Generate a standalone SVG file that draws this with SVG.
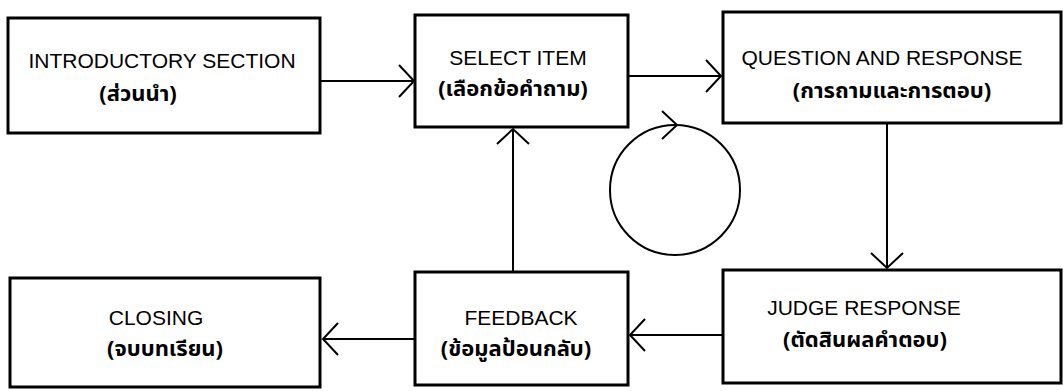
<svg xmlns="http://www.w3.org/2000/svg" width="1063" height="391" viewBox="0 0 1063 391">
<style>
.box{fill:#fff;stroke:#000;stroke-width:3}
.en{font-family:"Liberation Sans",Arial,sans-serif;font-size:21px;fill:#000;text-anchor:middle}
.th{font-family:"Noto Sans Thai","Liberation Sans","DejaVu Sans",sans-serif;font-size:22px;font-weight:bold;fill:#000;text-anchor:middle}
.con{fill:none;stroke:#000;stroke-width:2}
</style>
<defs>
<marker id="ah" markerUnits="userSpaceOnUse" markerWidth="40" markerHeight="40" refX="20" refY="20" orient="auto" viewBox="0 0 40 40">
<path d="M5,4 L20,20 L5,36" fill="none" stroke="#000" stroke-width="2"/>
</marker>
</defs>
<g id="connectors">
<line class="con" x1="321" y1="81" x2="414" y2="81" marker-end="url(#ah)"/>
<line class="con" x1="628" y1="76" x2="721" y2="76" marker-end="url(#ah)"/>
<line class="con" x1="887" y1="123" x2="887" y2="268" marker-end="url(#ah)"/>
<line class="con" x1="723" y1="335" x2="630" y2="335" marker-end="url(#ah)"/>
<line class="con" x1="415" y1="339" x2="323" y2="339" marker-end="url(#ah)"/>
<line class="con" x1="513" y1="272" x2="513" y2="129" marker-end="url(#ah)"/>
<circle class="con" cx="675" cy="190" r="65"/>
<path d="M662,111 L677,125 L662,139" fill="none" stroke="#000" stroke-width="2"/>
</g>
<g id="intro">
<rect class="box" x="8" y="18" width="312" height="115"/>
<text class="en" x="162" y="68">INTRODUCTORY SECTION</text>
<text class="th" x="138" y="101">(ส่วนนำ)</text>
</g>
<g id="select">
<rect class="box" x="415" y="15" width="213" height="112"/>
<text class="en" x="518" y="65">SELECT ITEM</text>
<text class="th" x="513" y="96">(เลือกข้อคำถาม)</text>
</g>
<g id="question">
<rect class="box" x="723" y="12" width="338" height="111"/>
<text class="en" x="882" y="65">QUESTION AND RESPONSE</text>
<text class="th" x="892" y="98">(การถามและการตอบ)</text>
</g>
<g id="judge">
<rect class="box" x="723" y="270" width="338" height="113"/>
<text class="en" x="864" y="315">JUDGE RESPONSE</text>
<text class="th" x="865" y="347">(ตัดสินผลคำตอบ)</text>
</g>
<g id="feedback">
<rect class="box" x="415" y="272" width="213" height="113"/>
<text class="en" x="521" y="325">FEEDBACK</text>
<text class="th" x="516" y="356">(ข้อมูลป้อนกลับ)</text>
</g>
<g id="closing">
<rect class="box" x="10" y="278" width="310" height="109"/>
<text class="en" x="156" y="325">CLOSING</text>
<text class="th" x="165" y="356">(จบบทเรียน)</text>
</g>
</svg>
